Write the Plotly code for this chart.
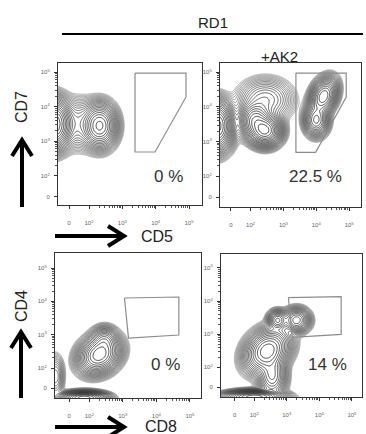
import numpy as np
import plotly.graph_objects as go

W, H = 366, 434

# ---- axis ticks (decade units: 2 -> 10^2, ... ; "0" sits below 10^2) ----
tick_vals = [1.4, 2, 3, 4, 5]
tick_text = ["0", "10<sup>2</sup>", "10<sup>3</sup>", "10<sup>4</sup>", "10<sup>5</sup>"]

# ---- panel titles / labels ----
group_label = "RD1"
treatment_label = "+AK2"
x_labels = ["CD5", "CD8"]
y_labels = ["CD7", "CD4"]
gate_pct = ["0 %", "22.5 %", "0 %", "14 %"]

# ---- gates (decade units) ----
gate_top_x = [3.38, 4.91, 4.91, 3.98, 3.38, 3.38]
gate_top_y = [4.97, 4.97, 4.28, 2.69, 2.69, 4.97]
gate_bot_x = [3.05, 4.67, 4.67, 3.17, 3.05]
gate_bot_y = [4.10, 4.13, 2.99, 2.90, 4.10]

# ---- populations (center, spread, weight, correlation) ----
# top-left: RD1, CD5 vs CD7
tl_cx = [0.92, 2.32, 1.7]
tl_cy = [3.50, 3.45, 3.5]
tl_sx = [0.24, 0.23, 0.3]
tl_sy = [0.32, 0.29, 0.35]
tl_w = [1.0, 0.45, 0.05]
tl_r = [0.0, 0.0, 0.0]
# top-right: RD1 +AK2, CD5 vs CD7
tr_cx = [0.92, 2.45, 2.15, 2.45, 4.22, 4.0]
tr_cy = [3.45, 3.32, 3.60, 4.20, 4.30, 3.62]
tr_sx = [0.24, 0.22, 0.22, 0.38, 0.19, 0.17]
tr_sy = [0.32, 0.20, 0.24, 0.28, 0.24, 0.21]
tr_w = [1.0, 0.8, 0.45, 0.10, 0.45, 0.30]
tr_r = [0.0, 0.0, 0.0, 0.0, 0.3, 0.0]
# bottom-left: RD1, CD8 vs CD4
bl_cx = [2.30, 2.45, 1.85, 1.00]
bl_cy = [2.40, 2.85, 1.10, 1.75]
bl_sx = [0.28, 0.18, 0.30, 0.12]
bl_sy = [0.26, 0.18, 0.09, 0.30]
bl_w = [1.0, 0.30, 1.6, 0.10]
bl_r = [0.2, 0.0, 0.0, 0.0]
# bottom-right: RD1 +AK2, CD8 vs CD4
br_cx = [2.40, 2.72, 3.30, 2.00, 2.55]
br_cy = [2.50, 3.42, 3.42, 1.10, 1.75]
br_sx = [0.31, 0.14, 0.19, 0.40, 0.20]
br_sy = [0.30, 0.14, 0.17, 0.09, 0.30]
br_w = [1.0, 0.40, 0.45, 1.6, 0.40]
br_r = [0.25, 0.0, 0.0, 0.0, 0.0]

# ---- layout helpers (pixels -> paper) ----
def px(p):
    return p / W

def py(p):
    return 1 - p / H

panels = [
    dict(box=(58, 63, 202, 205), xr=(1.07, 5.39), yr=(1.16, 5.26),
         pops=(tl_cx, tl_cy, tl_sx, tl_sy, tl_w, tl_r), gate=(gate_top_x, gate_top_y),
         pct=gate_pct[0], pct_pos=(168, 176)),
    dict(box=(220, 63, 361, 207), xr=(1.07, 5.36), yr=(1.12, 5.26),
         pops=(tr_cx, tr_cy, tr_sx, tr_sy, tr_w, tr_r), gate=(gate_top_x, gate_top_y),
         pct=gate_pct[1], pct_pos=(315, 176)),
    dict(box=(55, 253, 201, 398), xr=(0.98, 5.33), yr=(1.10, 5.45),
         pops=(bl_cx, bl_cy, bl_sx, bl_sy, bl_w, bl_r), gate=(gate_bot_x, gate_bot_y),
         pct=gate_pct[2], pct_pos=(165, 364)),
    dict(box=(221, 254, 362, 397), xr=(0.98, 5.31), yr=(1.10, 5.42),
         pops=(br_cx, br_cy, br_sx, br_sy, br_w, br_r), gate=(gate_bot_x, gate_bot_y),
         pct=gate_pct[3], pct_pos=(327, 364)),
]

fig = go.Figure()
minor_vals = [d + np.log10(k) for d in (2, 3, 4) for k in range(2, 10)]

for i, p in enumerate(panels):
    n = "" if i == 0 else str(i + 1)
    x0, y0, x1, y1 = p["box"]
    xs = np.linspace(p["xr"][0], p["xr"][1], 220)
    ys = np.linspace(p["yr"][0], p["yr"][1], 220)
    X, Y = np.meshgrid(xs, ys)
    Z = np.zeros_like(X)
    for cx, cy, sx, sy, w, r in zip(*p["pops"]):
        dx = (X - cx) / sx
        dy = (Y - cy) / sy
        q = (dx * dx - 2 * r * dx * dy + dy * dy) / (1 - r * r)
        Z += w * np.exp(-0.5 * q)
    L = np.log10(Z + 1e-12)
    top = L.max()
    fig.add_trace(go.Contour(
        x=xs, y=ys, z=L, xaxis="x" + n, yaxis="y" + n,
        contours=dict(start=top - 2.5, end=top - 0.04, size=0.11, coloring="lines"),
        line=dict(width=0.8),
        colorscale=[[0, "#999999"], [0.4, "#4a4a4a"], [1, "#111111"]],
        showscale=False, hoverinfo="skip"))
    gx, gy = p["gate"]
    fig.add_trace(go.Scatter(x=gx, y=gy, mode="lines", xaxis="x" + n, yaxis="y" + n,
                             line=dict(color="#8c8c8c", width=1.2), hoverinfo="skip",
                             showlegend=False))
    axcommon = dict(showline=True, mirror=True, linecolor="#333333", linewidth=1,
                    showgrid=False, zeroline=False, ticks="outside", ticklen=3,
                    tickcolor="#333", tickvals=tick_vals, ticktext=tick_text,
                    tickfont=dict(size=6, color="#666", family="Liberation Sans"),
                    minor=dict(tickvals=minor_vals, ticks="outside", ticklen=2,
                               tickcolor="#555"))
    fig.layout["xaxis" + n] = dict(axcommon, domain=[px(x0), px(x1)], range=list(p["xr"]),
                                    anchor="y" + n, ticklabelstandoff=9)
    fig.layout["yaxis" + n] = dict(axcommon, domain=[py(y1), py(y0)], range=list(p["yr"]),
                                    anchor="x" + n, ticklabelstandoff=3)

def label(x, y, text, size, color="#222", angle=0):
    fig.add_annotation(x=px(x), y=py(y), xref="paper", yref="paper", text=text,
                       showarrow=False, xanchor="center", yanchor="middle",
                       textangle=angle,
                       font=dict(size=size, color=color, family="Liberation Sans"))

for p in panels:
    label(p["pct_pos"][0], p["pct_pos"][1], p["pct"], 17, "#333")

# titles
label(213, 22, group_label, 15)
label(279, 56, treatment_label, 15)
fig.add_shape(type="line", xref="paper", yref="paper", x0=px(62), x1=px(363),
              y0=py(34), y1=py(34), line=dict(color="black", width=2))

# axis labels
label(21, 107, y_labels[0], 16, angle=-90)
label(21, 306, y_labels[1], 16, angle=-90)
label(157, 236, x_labels[0], 16)
label(161, 426, x_labels[1], 16)

# arrows
def up_arrow(x, ytop, ybot):
    fig.add_shape(type="line", xref="paper", yref="paper", x0=px(x), x1=px(x),
                  y0=py(ybot), y1=py(ytop + 2), line=dict(color="black", width=4))
    fig.add_shape(type="path", xref="paper", yref="paper",
                  path=f"M {px(x-10)},{py(ytop+18)} L {px(x)},{py(ytop+2)} L {px(x+10)},{py(ytop+18)}",
                  line=dict(color="black", width=4))

def right_arrow(y, xl, xr):
    fig.add_shape(type="line", xref="paper", yref="paper", x0=px(xl), x1=px(xr - 2),
                  y0=py(y), y1=py(y), line=dict(color="black", width=4))
    fig.add_shape(type="path", xref="paper", yref="paper",
                  path=f"M {px(xr-18)},{py(y-10)} L {px(xr-2)},{py(y)} L {px(xr-18)},{py(y+10)}",
                  line=dict(color="black", width=4))

up_arrow(22, 138, 207)
up_arrow(21, 330, 398)
right_arrow(236, 55, 126)
right_arrow(427, 55, 126)

fig.update_layout(width=W, height=H, margin=dict(l=0, r=0, t=0, b=0),
                  paper_bgcolor="white", plot_bgcolor="white", showlegend=False)
fig.write_html("out.html", config={"displayModeBar": False},
               post_script="document.body.style.margin='0';document.body.style.overflow='hidden';")
